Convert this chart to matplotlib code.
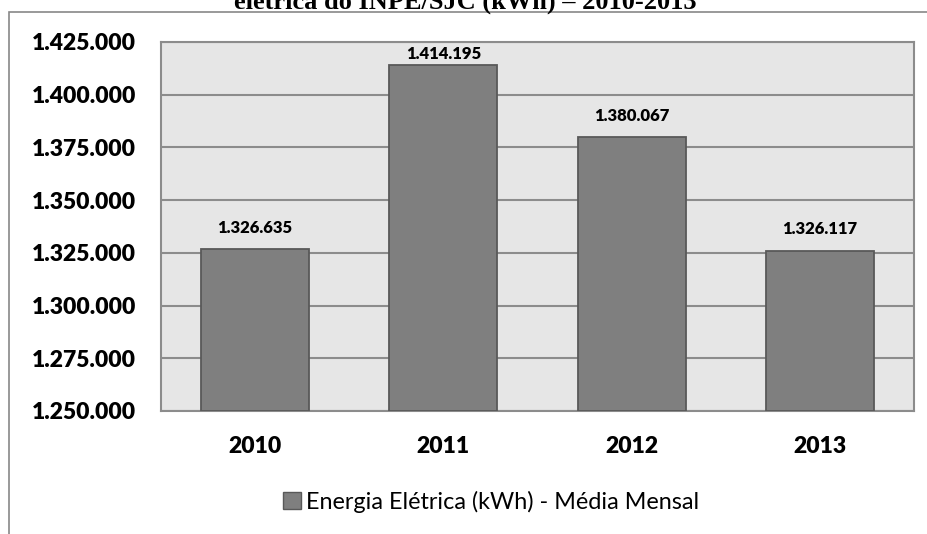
import matplotlib.pyplot as plt
from matplotlib.patches import Rectangle, Patch

anos = ["2010", "2011", "2012", "2013"]
energia = [1326635, 1414195, 1380067, 1326117]
rotulos = ["1.326.635", "1.414.195", "1.380.067", "1.326.117"]
yticks = [1250000, 1275000, 1300000, 1325000, 1350000, 1375000, 1400000, 1425000]
ytick_labels = ["1.250.000", "1.275.000", "1.300.000", "1.325.000",
                "1.350.000", "1.375.000", "1.400.000", "1.425.000"]
titulo = "elétrica do INPE/SJC (kWh) – 2010-2013"
legenda = "Energia Elétrica (kWh) - Média Mensal"

W, H = 928, 534
fig = plt.figure(figsize=(W / 100, H / 100), dpi=100)
fonte = "Lato"

# moldura do grafico (cortada na imagem)
fig.patches.append(Rectangle((9 / W, -0.1), 1.2, 1.1 - 12 / H, transform=fig.transFigure,
                             facecolor="none", edgecolor="#888888", lw=1.2))

fig.text(465 / W, 1 - 9 / H, titulo, ha="center", va="baseline", family="Liberation Serif",
         weight="bold", fontsize=19)

ax = fig.add_axes([161 / W, 1 - 411 / H, (914 - 161) / W, (411 - 42) / H])
ax.set_facecolor("#E6E6E6")
x = range(len(anos))
ax.bar(x, [v - 1250000 for v in energia], bottom=1250000, width=0.575,
       color="#7F7F7F", edgecolor="#595959", lw=1.3, zorder=3)
ax.set_xlim(-0.5, 3.5)
ax.set_ylim(1250000, 1425000)
ax.set_yticks(yticks)
ax.set_yticklabels(ytick_labels, family=fonte, weight="heavy", fontsize=16.5)
ax.set_xticks(list(x))
ax.set_xticklabels(anos, family=fonte, weight="heavy", fontsize=16.5)
ax.tick_params(length=0)
ax.tick_params(axis="y", pad=18)
ax.tick_params(axis="x", pad=18)
ax.grid(axis="y", color="#8C8C8C", lw=1.5, zorder=1)
for s in ax.spines.values():
    s.set_color("#8C8C8C")
    s.set_linewidth(1.5)

for i, v in enumerate(energia):
    yl = min(v + 10000, 1419500)
    ax.text(i, yl, rotulos[i], ha="center", va="center", family=fonte, weight="heavy",
            fontsize=12, zorder=4)

fig.legend(handles=[Patch(facecolor="#7F7F7F", edgecolor="#595959", label=legenda)],
           loc="center", bbox_to_anchor=(491 / W, 1 - 502 / H), frameon=False,
           prop={"family": fonte, "size": 16.8}, handlelength=0.75, handleheight=0.75,
           handletextpad=0.2)

fig.savefig("out.png", dpi=100)
